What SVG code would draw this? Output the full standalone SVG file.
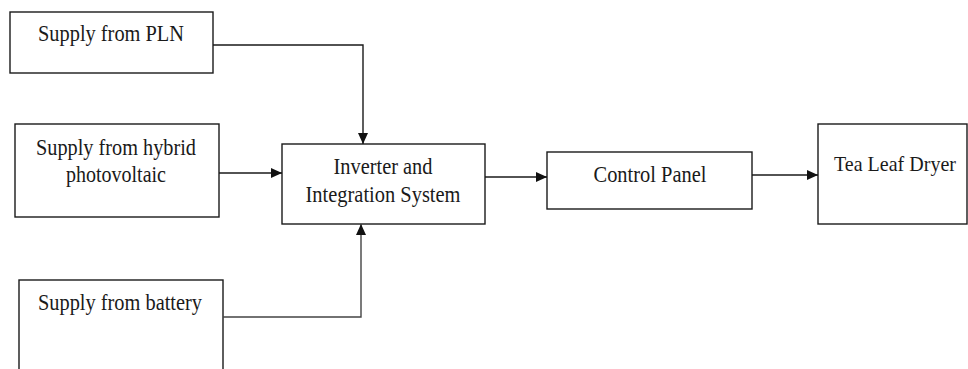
<svg xmlns="http://www.w3.org/2000/svg" width="968" height="369" viewBox="0 0 968 369">
<style>
.box{fill:#fff;stroke:#1a1a1a;stroke-width:1.4}
.lbl{font-family:"Liberation Serif","Times New Roman",serif;font-size:23px;fill:#1a1a1a;text-anchor:middle}
.con{fill:none;stroke:#1a1a1a;stroke-width:1.4}
</style>
<defs>
<marker id="arr" markerUnits="userSpaceOnUse" markerWidth="12" markerHeight="10" refX="11" refY="5" orient="auto">
<path d="M0,0 L11,5 L0,10 Z" fill="#111"/>
</marker>
</defs>
<rect width="968" height="369" fill="#fff"/>
<g id="pln">
<rect class="box" x="10" y="12" width="203" height="61"/>
<text class="lbl" x="111" y="41" textLength="146" lengthAdjust="spacingAndGlyphs">Supply from PLN</text>
</g>
<g id="hybrid">
<rect class="box" x="15" y="124" width="204" height="93"/>
<text class="lbl" x="116" y="155" textLength="160" lengthAdjust="spacingAndGlyphs">Supply from hybrid</text>
<text class="lbl" x="116" y="182" textLength="100" lengthAdjust="spacingAndGlyphs">photovoltaic</text>
</g>
<g id="battery">
<rect class="box" x="19" y="280" width="204" height="100"/>
<text class="lbl" x="120" y="310" textLength="164" lengthAdjust="spacingAndGlyphs">Supply from battery</text>
</g>
<g id="inverter">
<rect class="box" x="282" y="144" width="203" height="80"/>
<text class="lbl" x="383" y="174" textLength="99" lengthAdjust="spacingAndGlyphs">Inverter and</text>
<text class="lbl" x="383" y="202" textLength="155" lengthAdjust="spacingAndGlyphs">Integration System</text>
</g>
<g id="control">
<rect class="box" x="547" y="152" width="205" height="57"/>
<text class="lbl" x="650" y="182" textLength="113" lengthAdjust="spacingAndGlyphs">Control Panel</text>
</g>
<g id="dryer">
<rect class="box" x="818" y="124" width="149" height="100"/>
<text class="lbl" style="font-size:21px" x="895" y="171" textLength="122" lengthAdjust="spacingAndGlyphs">Tea Leaf Dryer</text>
</g>
<g id="connectors">
<path class="con" d="M213,45 H363 V144" marker-end="url(#arr)"/>
<path class="con" d="M219,173 H282" marker-end="url(#arr)"/>
<path class="con" style="stroke:#444" d="M223,317 H361 V224" marker-end="url(#arr)"/>
<path class="con" d="M485,177 H547" marker-end="url(#arr)"/>
<path class="con" d="M752,175 H818" marker-end="url(#arr)"/>
</g>
</svg>
